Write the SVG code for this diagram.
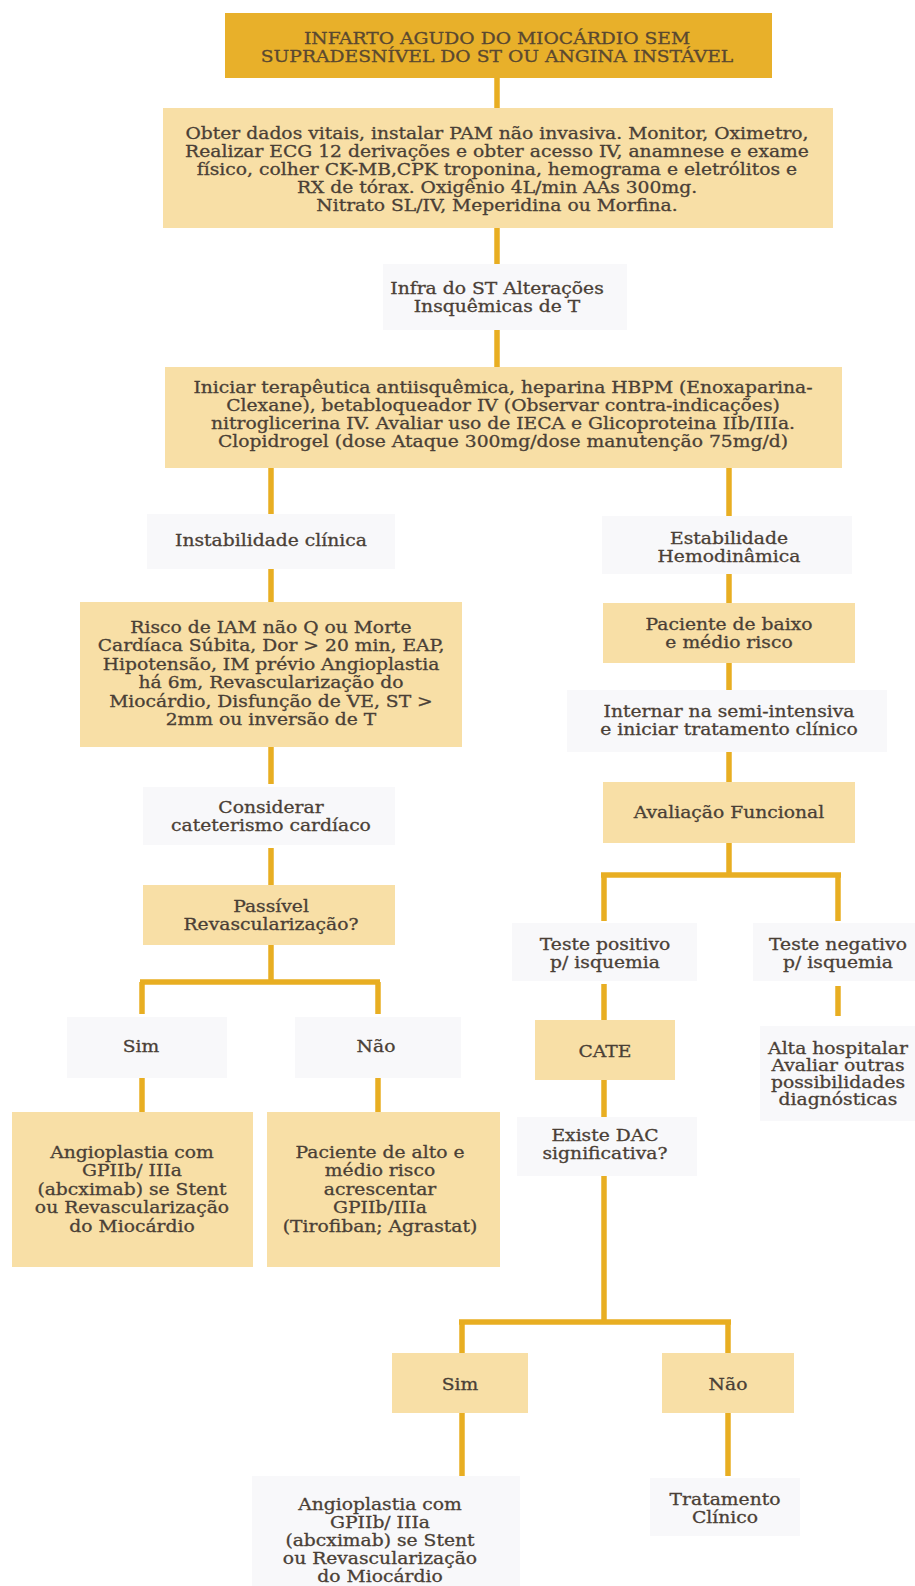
<svg xmlns="http://www.w3.org/2000/svg" width="915" height="1586" viewBox="0 0 915 1586">
  <style>
    .bg { fill: #ffffff; }
    .head { fill: #e8b02a; }
    .box { fill: #f8dfa6; }
    .lbl { fill: #f8f8fa; }
    .t { font-family: "DejaVu Serif", "Liberation Serif", serif; font-size: 16px; fill: #4a3f36; stroke: #4a3f36; stroke-width: 0.3; text-anchor: middle; }
    .th { fill: #5a4830; stroke: #5a4830; }
    .wire { stroke: #e8ae22; stroke-width: 5.5; fill: none; stroke-linecap: butt; }
  </style>
  <rect class="bg" x="0" y="0" width="915" height="1586"/>

  <!-- connectors -->
  <g id="connectors">
    <!-- main column -->
    <line class="wire" x1="497" y1="78" x2="497" y2="108"/>
    <line class="wire" x1="497" y1="228" x2="497" y2="264"/>
    <line class="wire" x1="497" y1="330" x2="497" y2="367"/>
    <!-- left column -->
    <line class="wire" x1="271" y1="468" x2="271" y2="514"/>
    <line class="wire" x1="271" y1="569" x2="271" y2="602"/>
    <line class="wire" x1="271" y1="747" x2="271" y2="784"/>
    <line class="wire" x1="271" y1="848" x2="271" y2="885"/>
    <line class="wire" x1="271" y1="945" x2="271" y2="982"/>
    <line class="wire" x1="140" y1="982" x2="380" y2="982"/>
    <line class="wire" x1="142" y1="982" x2="142" y2="1014"/>
    <line class="wire" x1="378" y1="982" x2="378" y2="1014"/>
    <line class="wire" x1="142" y1="1078" x2="142" y2="1112"/>
    <line class="wire" x1="378" y1="1078" x2="378" y2="1112"/>
    <!-- right column -->
    <line class="wire" x1="729" y1="468" x2="729" y2="516"/>
    <line class="wire" x1="729" y1="574" x2="729" y2="603"/>
    <line class="wire" x1="729" y1="663" x2="729" y2="690"/>
    <line class="wire" x1="729" y1="752" x2="729" y2="782"/>
    <line class="wire" x1="729" y1="843" x2="729" y2="875"/>
    <line class="wire" x1="601" y1="875" x2="841" y2="875"/>
    <line class="wire" x1="604" y1="875" x2="604" y2="921"/>
    <line class="wire" x1="838" y1="875" x2="838" y2="921"/>
    <line class="wire" x1="604" y1="984" x2="604" y2="1020"/>
    <line class="wire" x1="838" y1="986" x2="838" y2="1016"/>
    <line class="wire" x1="604" y1="1080" x2="604" y2="1117"/>
    <line class="wire" x1="604" y1="1176" x2="604" y2="1322"/>
    <line class="wire" x1="459" y1="1322" x2="731" y2="1322"/>
    <line class="wire" x1="462" y1="1322" x2="462" y2="1353"/>
    <line class="wire" x1="728" y1="1322" x2="728" y2="1353"/>
    <line class="wire" x1="462" y1="1413" x2="462" y2="1476"/>
    <line class="wire" x1="728" y1="1413" x2="728" y2="1476"/>
  </g>

  <g id="n-title">
    <rect class="head" x="225" y="13" width="547" height="65"/>
    <text class="t th" transform="translate(497 0) scale(1.17 1)"><tspan x="0" y="44">INFARTO AGUDO DO MIOCÁRDIO SEM</tspan><tspan x="0" y="62">SUPRADESNÍVEL DO ST OU ANGINA INSTÁVEL</tspan></text>
  </g>

  <g id="n-initial">
    <rect class="box" x="163" y="108" width="670" height="120"/>
    <text class="t" transform="translate(497 0) scale(1.17 1)"><tspan x="0" y="139">Obter dados vitais, instalar PAM não invasiva. Monitor, Oximetro,</tspan><tspan x="0" y="157">Realizar ECG 12 derivações e obter acesso IV, anamnese e exame</tspan><tspan x="0" y="175">físico, colher CK-MB,CPK troponina, hemograma e eletrólitos e</tspan><tspan x="0" y="193">RX de tórax. Oxigênio 4L/min AAs 300mg.</tspan><tspan x="0" y="211">Nitrato SL/IV, Meperidina ou Morfina.</tspan></text>
  </g>

  <g id="n-infra">
    <rect class="lbl" x="383" y="264" width="244" height="66"/>
    <text class="t" transform="translate(497 0) scale(1.17 1)"><tspan x="0" y="294">Infra do ST Alterações</tspan><tspan x="0" y="312">Insquêmicas de T</tspan></text>
  </g>

  <g id="n-therapy">
    <rect class="box" x="165" y="367" width="677" height="101"/>
    <text class="t" transform="translate(503 0) scale(1.17 1)"><tspan x="0" y="393">Iniciar terapêutica antiisquêmica, heparina HBPM (Enoxaparina-</tspan><tspan x="0" y="411">Clexane), betabloqueador IV (Observar contra-indicações)</tspan><tspan x="0" y="429">nitroglicerina IV. Avaliar uso de IECA e Glicoproteina IIb/IIIa.</tspan><tspan x="0" y="447">Clopidrogel (dose Ataque 300mg/dose manutenção 75mg/d)</tspan></text>
  </g>

  <g id="n-instab">
    <rect class="lbl" x="147" y="514" width="248" height="55"/>
    <text class="t" transform="translate(271 0) scale(1.17 1)"><tspan x="0" y="546">Instabilidade clínica</tspan></text>
  </g>

  <g id="n-risco">
    <rect class="box" x="80" y="602" width="382" height="145"/>
    <text class="t" transform="translate(271 0) scale(1.17 1)"><tspan x="0" y="633">Risco de IAM não Q ou Morte</tspan><tspan x="0" y="651.5">Cardíaca Súbita, Dor &gt; 20 min, EAP,</tspan><tspan x="0" y="670">Hipotensão, IM prévio Angioplastia</tspan><tspan x="0" y="688.5">há 6m, Revascularização do</tspan><tspan x="0" y="707">Miocárdio, Disfunção de VE, ST &gt;</tspan><tspan x="0" y="725.5">2mm ou inversão de T</tspan></text>
  </g>

  <g id="n-considerar">
    <rect class="lbl" x="143" y="787" width="252" height="58"/>
    <text class="t" transform="translate(271 0) scale(1.17 1)"><tspan x="0" y="813">Considerar</tspan><tspan x="0" y="831">cateterismo cardíaco</tspan></text>
  </g>

  <g id="n-passivel">
    <rect class="box" x="143" y="885" width="252" height="60"/>
    <text class="t" transform="translate(271 0) scale(1.17 1)"><tspan x="0" y="912">Passível</tspan><tspan x="0" y="930">Revascularização?</tspan></text>
  </g>

  <g id="n-sim-1">
    <rect class="lbl" x="67" y="1017" width="160" height="61"/>
    <text class="t" transform="translate(141 0) scale(1.17 1)"><tspan x="0" y="1052">Sim</tspan></text>
  </g>

  <g id="n-nao-1">
    <rect class="lbl" x="295" y="1017" width="166" height="61"/>
    <text class="t" transform="translate(376 0) scale(1.17 1)"><tspan x="0" y="1052">Não</tspan></text>
  </g>

  <g id="n-angio-1">
    <rect class="box" x="12" y="1112" width="241" height="155"/>
    <text class="t" transform="translate(132 0) scale(1.17 1)"><tspan x="0" y="1158">Angioplastia com</tspan><tspan x="0" y="1176.5">GPIIb/ IIIa</tspan><tspan x="0" y="1195">(abcximab) se Stent</tspan><tspan x="0" y="1213.5">ou Revascularização</tspan><tspan x="0" y="1232">do Miocárdio</tspan></text>
  </g>

  <g id="n-alto-risco">
    <rect class="box" x="267" y="1112" width="233" height="155"/>
    <text class="t" transform="translate(380 0) scale(1.17 1)"><tspan x="0" y="1158">Paciente de alto e</tspan><tspan x="0" y="1176.5">médio risco</tspan><tspan x="0" y="1195">acrescentar</tspan><tspan x="0" y="1213.5">GPIIb/IIIa</tspan><tspan x="0" y="1232">(Tirofiban; Agrastat)</tspan></text>
  </g>

  <g id="n-estab">
    <rect class="lbl" x="602" y="516" width="250" height="58"/>
    <text class="t" transform="translate(729 0) scale(1.17 1)"><tspan x="0" y="544">Estabilidade</tspan><tspan x="0" y="562">Hemodinâmica</tspan></text>
  </g>

  <g id="n-baixo-risco">
    <rect class="box" x="603" y="603" width="252" height="60"/>
    <text class="t" transform="translate(729 0) scale(1.17 1)"><tspan x="0" y="630">Paciente de baixo</tspan><tspan x="0" y="648">e médio risco</tspan></text>
  </g>

  <g id="n-internar">
    <rect class="lbl" x="567" y="690" width="320" height="62"/>
    <text class="t" transform="translate(729 0) scale(1.17 1)"><tspan x="0" y="717">Internar na semi-intensiva</tspan><tspan x="0" y="735">e iniciar tratamento clínico</tspan></text>
  </g>

  <g id="n-avaliacao">
    <rect class="box" x="603" y="782" width="252" height="61"/>
    <text class="t" transform="translate(729 0) scale(1.17 1)"><tspan x="0" y="818">Avaliação Funcional</tspan></text>
  </g>

  <g id="n-teste-pos">
    <rect class="lbl" x="512" y="923" width="185" height="58"/>
    <text class="t" transform="translate(605 0) scale(1.17 1)"><tspan x="0" y="950">Teste positivo</tspan><tspan x="0" y="968">p/ isquemia</tspan></text>
  </g>

  <g id="n-teste-neg">
    <rect class="lbl" x="753" y="923" width="162" height="58"/>
    <text class="t" transform="translate(838 0) scale(1.17 1)"><tspan x="0" y="950">Teste negativo</tspan><tspan x="0" y="968">p/ isquemia</tspan></text>
  </g>

  <g id="n-cate">
    <rect class="box" x="535" y="1020" width="140" height="60"/>
    <text class="t" transform="translate(605 0) scale(1.17 1)"><tspan x="0" y="1057">CATE</tspan></text>
  </g>

  <g id="n-dac">
    <rect class="lbl" x="517" y="1117" width="180" height="59"/>
    <text class="t" transform="translate(605 0) scale(1.17 1)"><tspan x="0" y="1141">Existe DAC</tspan><tspan x="0" y="1159">significativa?</tspan></text>
  </g>

  <g id="n-alta">
    <rect class="lbl" x="760" y="1026" width="155" height="95"/>
    <text class="t" transform="translate(838 0) scale(1.17 1)"><tspan x="0" y="1054">Alta hospitalar</tspan><tspan x="0" y="1071">Avaliar outras</tspan><tspan x="0" y="1088">possibilidades</tspan><tspan x="0" y="1105">diagnósticas</tspan></text>
  </g>

  <g id="n-sim-2">
    <rect class="box" x="392" y="1353" width="136" height="60"/>
    <text class="t" transform="translate(460 0) scale(1.17 1)"><tspan x="0" y="1390">Sim</tspan></text>
  </g>

  <g id="n-nao-2">
    <rect class="box" x="662" y="1353" width="132" height="60"/>
    <text class="t" transform="translate(728 0) scale(1.17 1)"><tspan x="0" y="1390">Não</tspan></text>
  </g>

  <g id="n-angio-2">
    <rect class="lbl" x="252" y="1476" width="268" height="110"/>
    <text class="t" transform="translate(380 0) scale(1.17 1)"><tspan x="0" y="1510">Angioplastia com</tspan><tspan x="0" y="1528">GPIIb/ IIIa</tspan><tspan x="0" y="1546">(abcximab) se Stent</tspan><tspan x="0" y="1564">ou Revascularização</tspan><tspan x="0" y="1582">do Miocárdio</tspan></text>
  </g>

  <g id="n-tratamento">
    <rect class="lbl" x="650" y="1478" width="150" height="58"/>
    <text class="t" transform="translate(725 0) scale(1.17 1)"><tspan x="0" y="1505">Tratamento</tspan><tspan x="0" y="1523">Clínico</tspan></text>
  </g>
</svg>
